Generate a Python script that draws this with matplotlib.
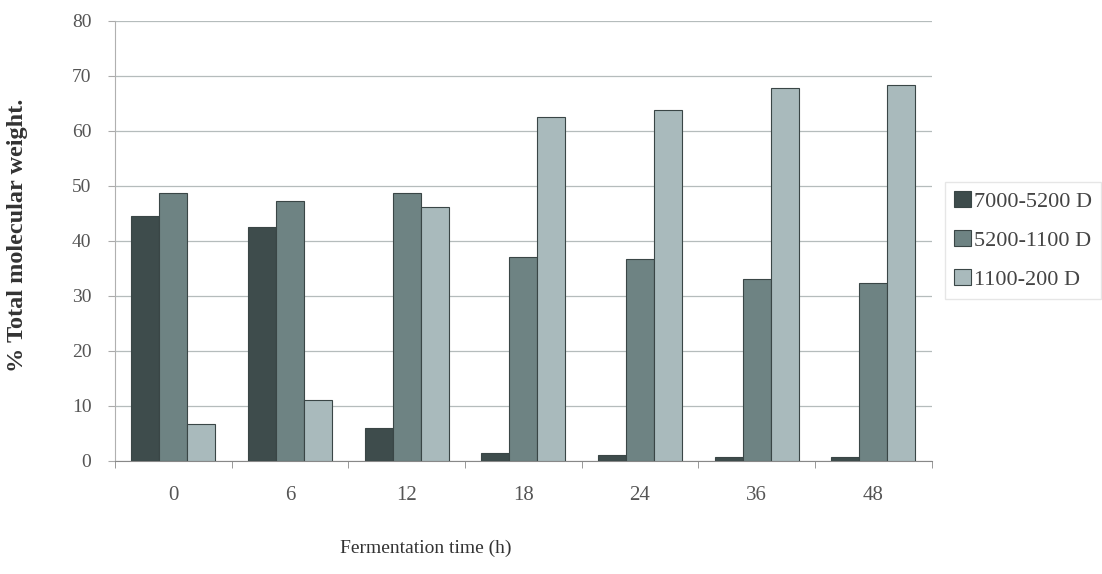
import numpy as np
import matplotlib
matplotlib.use("Agg")
import matplotlib.pyplot as plt

# fermentation time (h) and % of total molecular weight for each fraction
times = ["0", "6", "12", "18", "24", "36", "48"]
frac_7000_5200 = [44.5, 42.6, 5.9, 1.5, 1.0, 0.7, 0.8]
frac_5200_1100 = [48.8, 47.2, 48.8, 37.0, 36.7, 33.0, 32.3]
frac_1100_200 = [6.7, 11.1, 46.2, 62.5, 63.8, 67.8, 68.4]
series_names = ["7000-5200 D", "5200-1100 D", "1100-200 D"]

plt.rcParams['font.family'] = ['Liberation Serif', 'DejaVu Serif']

fig = plt.figure(figsize=(11.02, 5.74), dpi=100)
ax = fig.add_axes([0.1044, 0.197, 0.741, 0.7665])

x = np.arange(len(times))
w = 0.24
colors = ["#3e4c4c", "#6e8383", "#a9babc"]
series = [frac_7000_5200, frac_5200_1100, frac_1100_200]
for i, (vals, name, c) in enumerate(zip(series, series_names, colors)):
    ax.bar(x + (i - 1) * w, vals, w, color=c, edgecolor="#3a4646",
           linewidth=0.8, label=name, zorder=3)

ax.set_xlim(-0.5, len(times) - 0.5)
ax.set_ylim(0, 80)
ax.set_yticks(range(0, 81, 10))
ax.set_xticks(x)
ax.set_xticklabels(times)
ax.set_xticks(np.arange(-0.5, len(times), 1), minor=True)
ax.tick_params(axis="x", which="major", length=0, pad=18, labelsize=15, labelcolor="#555555")
ax.tick_params(axis="x", which="minor", length=5, color="#888888")
ax.tick_params(axis="y", length=5, color="#aaaaaa", labelsize=14, labelcolor="#555555", pad=12)

ax.grid(axis="y", color="#b5bcbc", linewidth=0.9, zorder=0)
for s in ["top", "right"]:
    ax.spines[s].set_visible(False)
ax.spines["left"].set_color("#b0b0b0")
ax.spines["bottom"].set_color("#888888")

fig.text(18 / 1102, 0.59, "% Total molecular weight.", rotation=90, fontsize=17.5,
         fontweight="bold", color="#333333", ha="center", va="center")
fig.text(426 / 1102, 1 - 548 / 574, "Fermentation time (h)", fontsize=14,
         color="#333333", ha="center", va="center")

leg = ax.legend(loc="upper left", bbox_to_anchor=(945 / 1102, 1 - 182 / 574),
                bbox_transform=fig.transFigure, fontsize=16,
                frameon=True, fancybox=False, edgecolor="#e0e0e0",
                handlelength=0.75, handleheight=0.75, handletextpad=0.15,
                labelspacing=0.82, borderpad=0.4, borderaxespad=0, labelcolor="#444444")

fig.savefig("out.png", dpi=100)
